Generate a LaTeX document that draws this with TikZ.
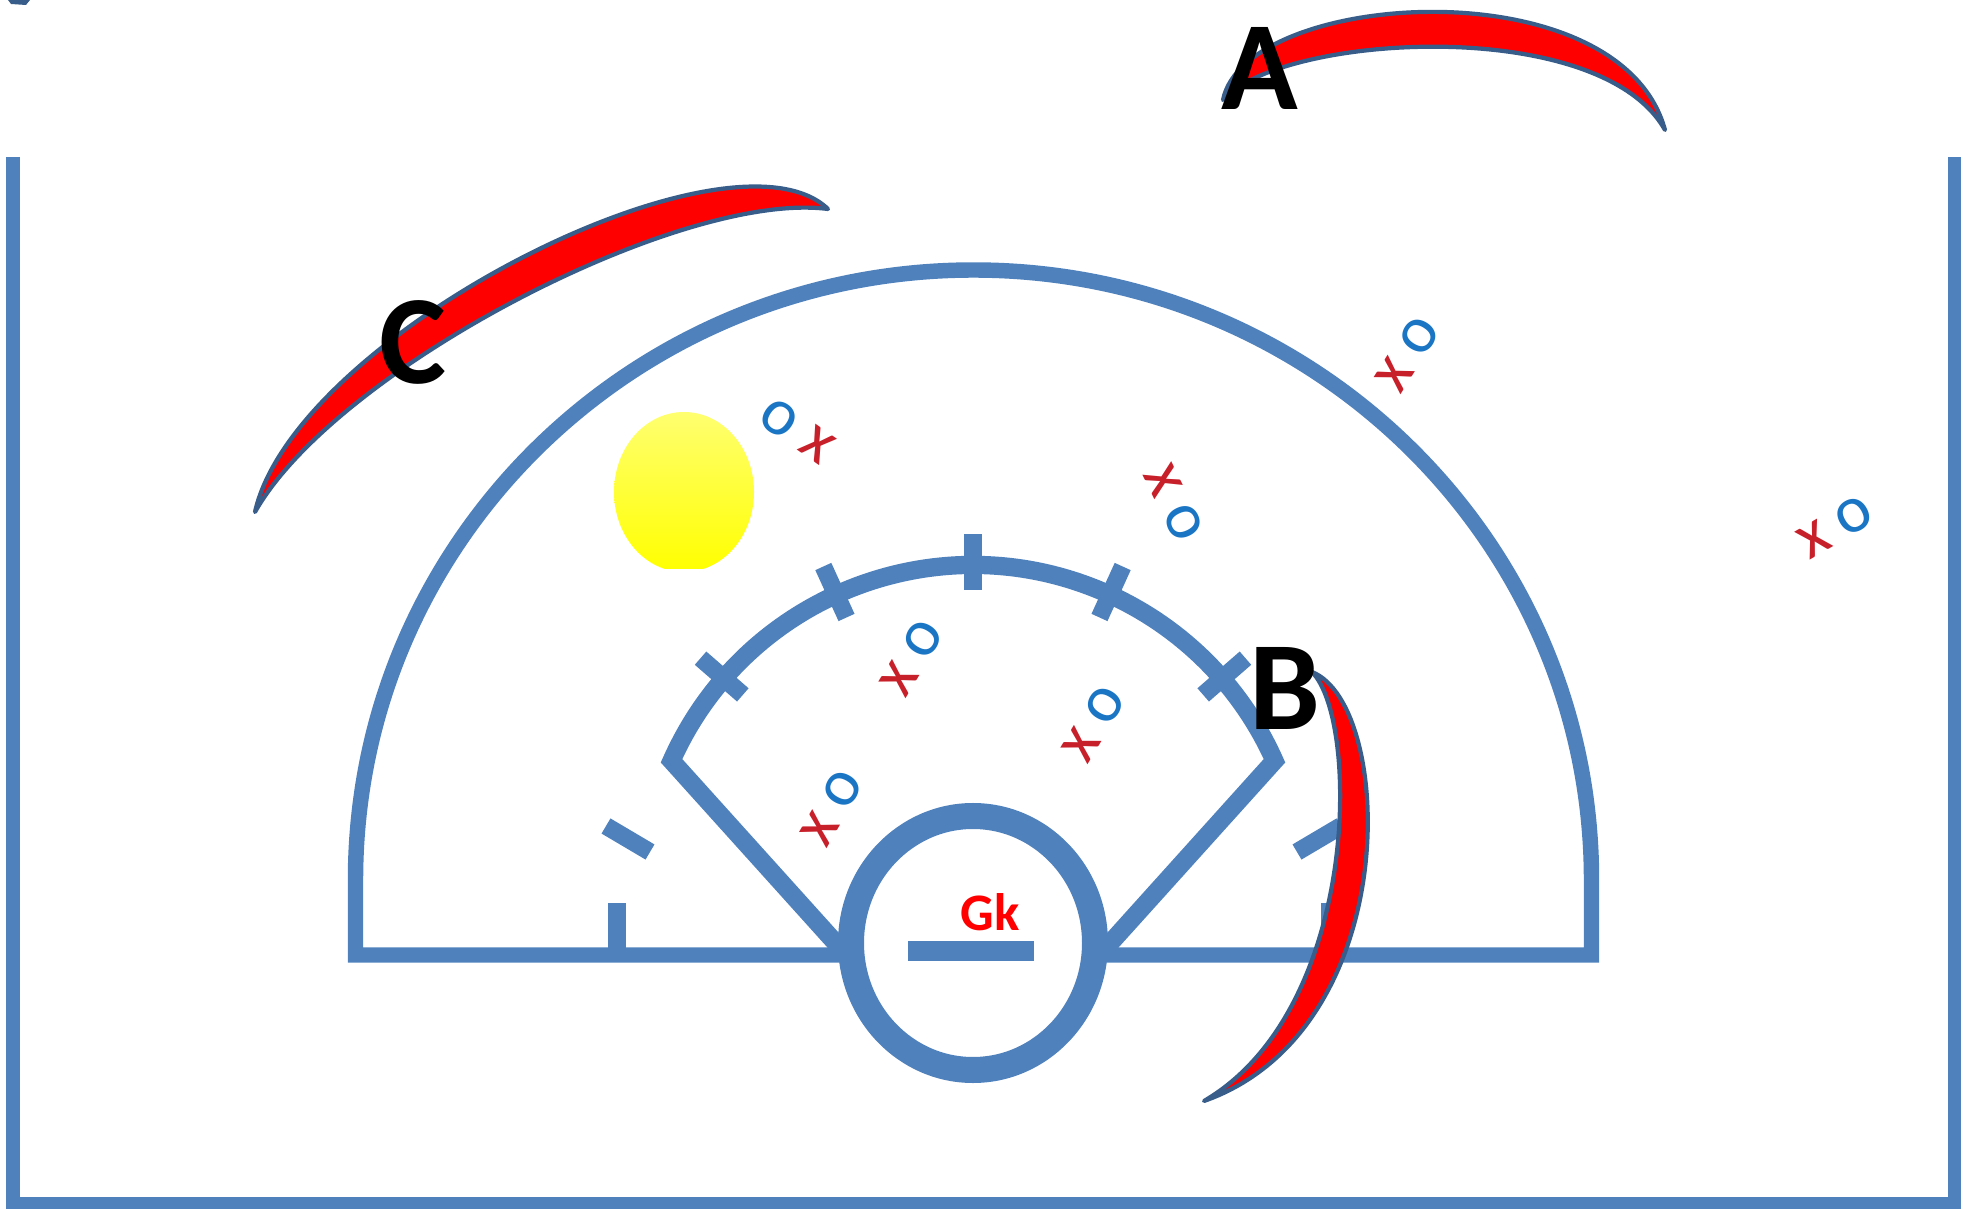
\documentclass[tikz,border=0pt]{standalone}
\usepackage{fontspec}
\setmainfont{Carlito}
\usetikzlibrary{calc}
\definecolor{courtblue}{HTML}{4F81BD}
\definecolor{rimblue}{HTML}{385D8A}
\definecolor{crossred}{HTML}{C8202A}
\definecolor{ringblue}{HTML}{1A75C4}
\definecolor{balltop}{HTML}{FFFF70}
\tikzset{
  court/.style={draw=courtblue, line width=4pt},
  crescent/.style={fill=red, draw=rimblue, line width=1.2pt, line join=round},
  zonelabel/.style={font=\fontsize{36}{36}\selectfont\bfseries, text=black, inner sep=0pt},
  gklabel/.style={font=\fontsize{15}{15}\selectfont\bfseries, text=red, inner sep=0pt},
  pair/.style={font=\fontsize{19}{19}\selectfont, inner sep=0pt}
}
\newcommand{\xo}{\textcolor{crossred}{x}\kern4pt\textcolor{ringblue}{o}}
\newcommand{\ox}{\textcolor{ringblue}{o}\kern4pt\textcolor{crossred}{x}}

\begin{document}
\begin{tikzpicture}[x=0.1mm, y=-0.1mm]
  \useasboundingbox (0,0) rectangle (1969,1209);
  \fill[rimblue] (8,0) -- (30,0) -- (26,5) -- (11,4) -- cycle;
  \draw[court, line width=3.7pt] (13,157) -- (13,1203) -- (1954,1203) -- (1954,157);
  \draw[court, line width=4.4pt] (840,955) -- (355.5,955) -- (355.5,880)
    arc[start angle=180, end angle=360, x radius=618, y radius=610] -- (1591.5,955) -- (1106,955);
  \draw[court, line width=5pt] (617,903) -- (617,955) (1330,903) -- (1330,955);
  \draw[court, line width=5pt] (606,826) -- (650,852) (1341,826) -- (1297,852);
  \draw[court, line width=5.2pt] (842,950) -- ([shift={(973,895)}]204:330)
    arc[start angle=204, end angle=336, radius=330] -- (1104,950);
  \foreach \ang in {221,245.5,270,294.5,319}
    \draw[court, line width=5pt] ([shift={(973,895)}]\ang:305) -- ([shift={(973,895)}]\ang:361);
  \draw[court, line width=7.4pt, fill=white] (973,943) ellipse[x radius=122, y radius=127];
  \fill[courtblue] (908,941) rectangle (1034,961);
  \node[gklabel] (gk) at (990,912) {Gk};
  \begin{scope}
    \clip (600,400) rectangle (770,569);
    \shade[top color=balltop, bottom color=yellow] (684,492) ellipse[x radius=70, y radius=80];
  \end{scope}
  \foreach \pos/\ang/\txt [count=\k] in {{(797,431)}/-35/\ox, {(1408,354)}/58/\xo,
      {(1174,503)}/-64/\xo, {(912,658)}/59/\xo, {(1094,724)}/59/\xo,
      {(832,808)}/60/\xo, {(1835,527)}/30/\xo}
    \node[pair, rotate=\ang] (p\k) at \pos {\txt};
  \draw[crescent] (1223,100) .. controls (1245,-10) and (1620,-35) .. (1665,130)
    .. controls (1600,14) and (1280,34) .. (1223,100) -- cycle;
  \draw[crescent] (1312,672) .. controls (1395,705) and (1405,1030) .. (1204,1101)
    .. controls (1360,1010) and (1360,720) .. (1312,672) -- cycle;
  \draw[crescent] (255,512) .. controls (295,335) and (730,115) .. (828,209)
    .. controls (680,190) and (335,370) .. (255,512) -- cycle;
  \node[zonelabel] (labA) at (1260,68) {A};
  \node[zonelabel] (labB) at (1285,688) {B};
  \node[zonelabel] (labC) at (413,342) {C};
\end{tikzpicture}
\end{document}
